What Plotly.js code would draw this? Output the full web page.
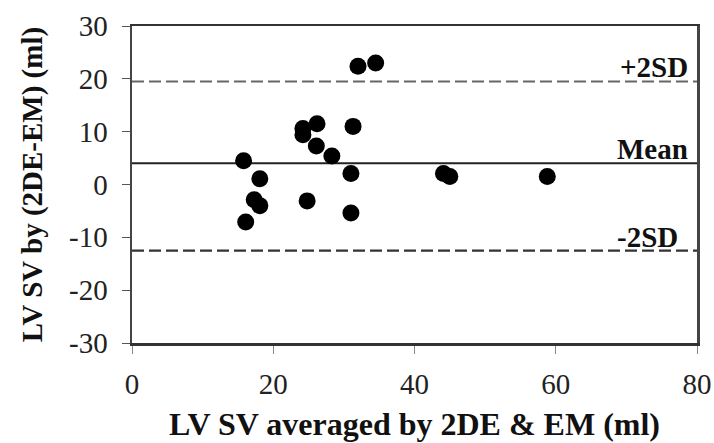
<!DOCTYPE html>
<html>
<head>
<meta charset="utf-8">
<script src="https://cdn.plot.ly/plotly-3.0.1.min.js"></script>
<style>html,body{margin:0;padding:0;background:#fff;}#chart{width:714px;height:443px;}</style>
</head>
<body>
<div id="chart"></div>
<script>
// Data
const avgSV = [32.0, 34.5, 24.2, 26.2, 24.2, 31.3, 26.1, 28.3, 15.8, 31.0, 18.1, 44.1, 45.0, 58.8, 17.3, 18.1, 24.8, 31.0, 16.1];
const diffSV = [22.4, 23.0, 10.6, 11.5, 9.4, 11.0, 7.3, 5.4, 4.5, 2.1, 1.1, 2.1, 1.5, 1.5, -2.9, -4.0, -3.1, -5.4, -7.1];
const meanDiff = 4.0;
const upperLimit = 19.5;
const lowerLimit = -12.5;
const lineSpan = [0, 80];
const xTicks = [0, 20, 40, 60, 80];
const yTicks = [-30, -20, -10, 0, 10, 20, 30];
const labels = ["+2SD", "Mean", "-2SD"];
const labelX = [79, 79, 77.6];

const serif = "Liberation Serif";

const traces = [
  {x: lineSpan, y: [upperLimit, upperLimit], mode: "lines", line: {color: "#666", width: 2.2, dash: "12px,5px"}, hoverinfo: "skip"},
  {x: lineSpan, y: [meanDiff, meanDiff], mode: "lines", line: {color: "#222", width: 2}, hoverinfo: "skip"},
  {x: lineSpan, y: [lowerLimit, lowerLimit], mode: "lines", line: {color: "#333", width: 2.2, dash: "12px,5px"}, hoverinfo: "skip"},
  {x: avgSV, y: diffSV, mode: "markers", marker: {color: "#000", size: 17}}
];

const levels = [upperLimit, meanDiff, lowerLimit];
const annotations = labels.map((t, i) => ({
  text: "<b>" + t + "</b>", x: labelX[i], y: levels[i], xref: "x", yref: "y",
  xanchor: "right", yanchor: "bottom", showarrow: false, yshift: -4,
  font: {family: serif, size: 29, color: "#111"}
}));

const layout = {
  width: 714, height: 443,
  margin: {l: 132, r: 17, t: 26, b: 100},
  paper_bgcolor: "#fff", plot_bgcolor: "#fff",
  showlegend: false,
  xaxis: {
    range: [0, 80], tickvals: xTicks, ticktext: xTicks.map(String),
    showgrid: false, zeroline: false, showline: true, mirror: true,
    linecolor: "#333", linewidth: 2.5, ticks: "outside", ticklen: 8, tickcolor: "#888",
    ticklabelstandoff: 6,
    tickfont: {family: serif, size: 29, color: "#222"},
    title: {text: "<b>LV SV averaged by 2DE & EM (ml)</b>", font: {family: serif, size: 32, color: "#111"}, standoff: 14}
  },
  yaxis: {
    range: [-30, 30], tickvals: yTicks, ticktext: yTicks.map(String),
    showgrid: false, zeroline: false, showline: true, mirror: true,
    linecolor: "#444", linewidth: 2.5, ticks: "outside", ticklen: 8, tickcolor: "#555",
    ticklabelstandoff: 8,
    tickfont: {family: serif, size: 29, color: "#222"},
    title: {text: "<b>LV SV by (2DE-EM) (ml)</b>", font: {family: serif, size: 29, color: "#111"}, standoff: 18}
  },
  annotations: annotations
};

Plotly.newPlot("chart", traces, layout, {displayModeBar: false, staticPlot: true});
</script>
</body>
</html>
